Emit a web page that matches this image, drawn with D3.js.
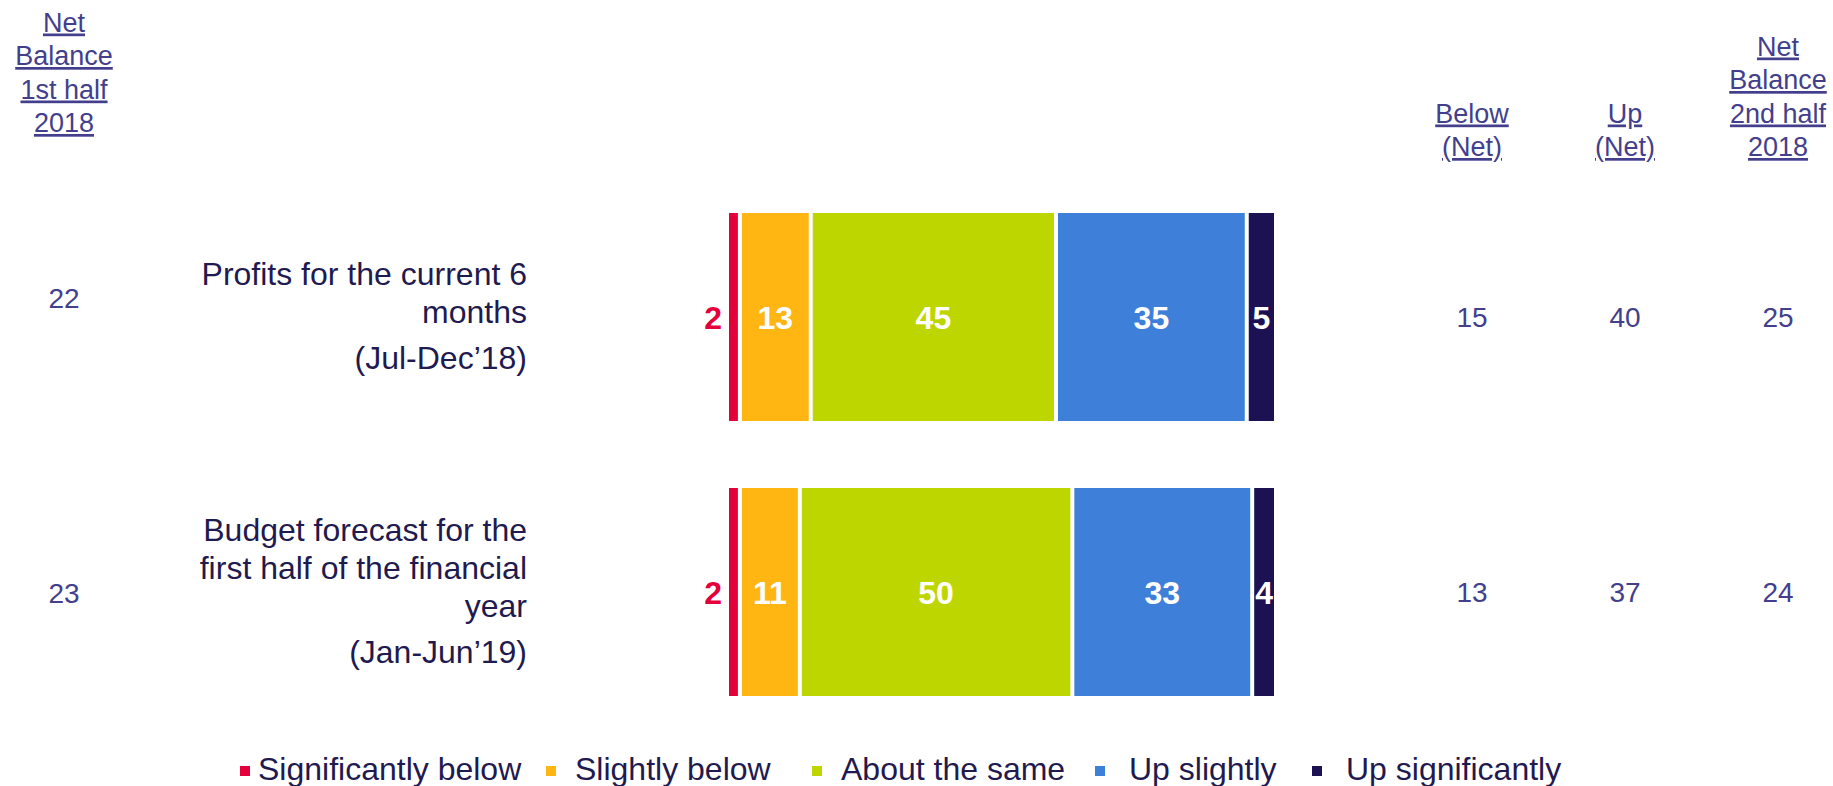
<!DOCTYPE html>
<html>
<head>
<meta charset="utf-8">
<script src="https://cdn.jsdelivr.net/npm/d3@7"></script>
<style>
  html, body { margin: 0; padding: 0; background: #fff; }
  svg { display: block; font-family: "Liberation Sans", Arial, sans-serif; }
</style>
</head>
<body>
<div id="chart"></div>
<script>
// chart values
var categories = ["profits", "budget"];
var categoryLines = [
  ["Profits for the current 6", "months"],
  ["Budget forecast for the", "first half of the financial", "year"]
];
var categoryPeriods = ["(Jul-Dec\u201918)", "(Jan-Jun\u201919)"];

var seriesNames = ["Significantly below", "Slightly below", "About the same", "Up slightly", "Up significantly"];
var seriesColors = ["#e4003b", "#ffb612", "#bed600", "#3e7fda", "#1c1153"];

var sigBelow = [2, 2];
var slightlyBelow = [13, 11];
var aboutSame = [45, 50];
var upSlightly = [35, 33];
var upSig = [5, 4];

var netBalance1st = [22, 23];
var belowNet = [15, 13];
var upNet = [40, 37];
var netBalance2nd = [25, 24];

var leftHeader = ["Net", "Balance", "1st half", "2018"];
var rightHeaders = [["Below", "(Net)"], ["Up", "(Net)"], ["Net", "Balance", "2nd half", "2018"]];

// layout
var W = 1833, H = 786;
var textDark = "#1f1a4f", textBlue = "#433f8d";

var svg = d3.select("#chart").append("svg")
  .attr("width", W)
  .attr("height", H);

// rows built from the small arrays
var rows = categories.map(function(c, i) {
  return {
    key: c,
    "Significantly below": sigBelow[i],
    "Slightly below": slightlyBelow[i],
    "About the same": aboutSame[i],
    "Up slightly": upSlightly[i],
    "Up significantly": upSig[i]
  };
});

var y = d3.scaleBand()
  .domain(categories)
  .range([213, 696])
  .paddingInner(0.2436)
  .paddingOuter(0);

var x = d3.scaleLinear().domain([0, 100]).range([729, 1274]);

var color = d3.scaleOrdinal().domain(seriesNames).range(seriesColors);

var stacked = d3.stack().keys(seriesNames)(rows);

// bars - white gap between segments, none on the outer edges
var gap = 2;
var layers = svg.append("g").selectAll("g")
  .data(stacked)
  .join("g")
  .attr("fill", function(d) { return color(d.key); });

layers.selectAll("rect")
  .data(function(d) { return d.map(function(v) { return {s: d.index, v: v}; }); })
  .join("rect")
  .attr("x", function(d) { return x(d.v[0]) + (d.s > 0 ? gap : 0); })
  .attr("y", function(d) { return y(d.v.data.key); })
  .attr("height", y.bandwidth())
  .attr("width", function(d) {
    var w = x(d.v[1]) - x(d.v[0]);
    if (d.s > 0) w -= gap;
    if (d.s < seriesNames.length - 1) w -= gap;
    return Math.max(w, 1);
  });

// value labels inside bars (first series sits outside the bar in red)
layers.selectAll("text")
  .data(function(d) { return d.map(function(v) { return {s: d.index, v: v}; }); })
  .join("text")
  .attr("x", function(d) {
    if (d.s === 0) return x(d.v[0]) - 7;
    return (x(d.v[0]) + x(d.v[1])) / 2 + (d.s === seriesNames.length - 1 ? 1 : 0);
  })
  .attr("y", function(d) { return y(d.v.data.key) + y.bandwidth() / 2; })
  .attr("dy", "0.36em")
  .attr("text-anchor", function(d) { return d.s === 0 ? "end" : "middle"; })
  .attr("fill", function(d) { return d.s === 0 ? seriesColors[0] : "#fff"; })
  .style("font-size", "32px")
  .style("font-weight", "bold")
  .text(function(d) { return d.v[1] - d.v[0]; });

// category labels, right aligned, with the period on a looser line
var lineStep = 38, periodStep = 46, labelRight = 527;
categories.forEach(function(c, i) {
  var lines = categoryLines[i];
  var span = (lines.length - 1) * lineStep + periodStep;
  var cy = y(c) + y.bandwidth() / 2;
  var top = cy + 10 - span / 2;
  var t = svg.append("text")
    .attr("text-anchor", "end")
    .attr("fill", textDark)
    .style("font-size", "32px");
  lines.forEach(function(l, j) {
    t.append("tspan").attr("x", labelRight).attr("y", top + j * lineStep).text(l);
  });
  t.append("tspan")
    .attr("x", labelRight)
    .attr("y", top + (lines.length - 1) * lineStep + periodStep)
    .text(categoryPeriods[i]);
});

// side value columns
var colX = {left: 64, below: 1472, up: 1625, net2: 1778};
var leftShift = [-19, 1];
function valueColumn(vals, cx, shifts) {
  svg.append("g").selectAll("text")
    .data(vals)
    .join("text")
    .attr("x", cx)
    .attr("y", function(d, i) { return y(categories[i]) + y.bandwidth() / 2 + (shifts ? shifts[i] : 0); })
    .attr("dy", "0.36em")
    .attr("text-anchor", "middle")
    .attr("fill", textBlue)
    .style("font-size", "28px")
    .text(function(d) { return d; });
}
valueColumn(netBalance1st, colX.left, leftShift);
valueColumn(belowNet, colX.below);
valueColumn(upNet, colX.up);
valueColumn(netBalance2nd, colX.net2);

// underlined column headers
function header(lines, cx, lastBaseline) {
  var step = 33.5;
  svg.append("g").selectAll("text")
    .data(lines)
    .join("text")
    .attr("x", cx)
    .attr("y", function(d, i) { return lastBaseline - (lines.length - 1 - i) * step; })
    .attr("text-anchor", "middle")
    .attr("fill", textBlue)
    .style("font-size", "27px")
    .style("text-decoration", "underline")
    .text(function(d) { return d; });
}
header(leftHeader, colX.left, 132);
header(rightHeaders[0], colX.below, 156);
header(rightHeaders[1], colX.up, 156);
header(rightHeaders[2], colX.net2, 156);

// legend
var legendX = [240, 546, 812, 1095, 1312];
var legend = svg.append("g").selectAll("g")
  .data(seriesNames)
  .join("g")
  .attr("transform", function(d, i) { return "translate(" + legendX[i] + ",766)"; });

legend.append("rect")
  .attr("width", 10)
  .attr("height", 10)
  .attr("fill", function(d) { return color(d); });

legend.append("text")
  .attr("x", function(d, i) { return i === 0 ? 18 : (i < 3 ? 29 : 34); })
  .attr("y", 14)
  .attr("fill", textDark)
  .style("font-size", "32px")
  .text(function(d) { return d; });
</script>
</body>
</html>
